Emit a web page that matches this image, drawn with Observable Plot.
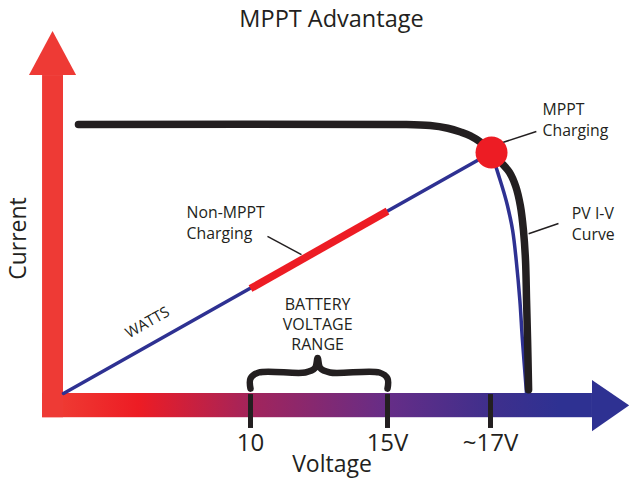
<!DOCTYPE html>
<html><head><meta charset="utf-8">
<script src="https://cdn.jsdelivr.net/npm/d3@7"></script>
<script src="https://cdn.jsdelivr.net/npm/@observablehq/plot@0.6"></script>
<style>
body{margin:0;background:#fff;}
#chart svg{display:block;}
</style></head><body><div id="chart"></div>
<script>
// ---- data (volts / amps) ----
const tickVolts = [10, 15, 17];
const tickLabels = ["10", "15V", "~17V"];
// PV I-V curve (black)
const pvVoltage = [0.8, 15.25, 15.83, 16.17, 16.42, 16.61, 16.81, 17.02, 17.21, 17.37, 17.49, 17.58, 17.64, 17.68, 17.70, 17.72, 17.74];
const pvCurrent = [5.0, 5.0, 4.98, 4.93, 4.86, 4.79, 4.67, 4.48, 4.29, 4.11, 3.85, 3.49, 3.03, 2.47, 1.73, 0.99, 0.07];
// straight "WATTS" line from origin to the maximum power point
const wattsVoltage = [0, 17.02];
const wattsCurrent = [0, 4.48];
// blue curve after the MPP
const blueVoltage = [17.02, 17.14, 17.25, 17.33, 17.43, 17.50, 17.57, 17.62, 17.70];
const blueCurrent = [4.48, 4.11, 3.77, 3.49, 3.03, 2.47, 1.73, 0.99, 0.00];
// maximum power point
const mppVoltage = [17.02];
const mppCurrent = [4.48];
// battery voltage range (red segment on the watts line)
const batteryVoltage = [10, 15];
const batteryCurrent = [1.95, 3.39];
// brace above the battery range
const braceVoltage = [10, 10, 10.3, 12.0, 12.35, 12.45, 12.55, 12.9, 14.7, 15, 15];
const braceCurrent = [0.09, 0.28, 0.39, 0.39, 0.47, 0.66, 0.47, 0.39, 0.39, 0.28, 0.09];
// axis arrows (volts / amps)
const xArrowV = [-1.12, 18.98, 19.7];   // shaft start, head base, tip
const xArrowI = [-0.45, 0, -0.71, 0.24, -0.23]; // shaft bottom, shaft top, head bottom, head top, tip
const yArrowI = [-0.45, 5.91, 6.73];    // shaft start, head base, tip
const yArrowV = [-1.12, 0, -1.82, 0.70, -0.56];
// annotations
const labels = [
  {text: "MPPT\nCharging", v: 18.01, i: 5.45},
  {text: "PV I-V\nCurve", v: 18.58, i: 3.51},
  {text: "Non-MPPT\nCharging", v: 6.58, i: 3.53}
];
const leaders = [
  {v1: 17.25, i1: 4.67, v2: 17.89, i2: 4.87},
  {v1: 17.74, i1: 2.97, v2: 18.32, i2: 3.16},
  {v1: 10.62, i1: 2.92, v2: 11.86, i2: 2.58}
];
const rangeLabel = {text: "BATTERY\nVOLTAGE\nRANGE", v: 12.45, i: 1.82};
const wattsLabel = {text: "WATTS", v: 4.49, i: 1.32};

const ink = "#231f20", blue = "#2e3192", red = "#ed1c24";
const font = "'Open Sans', 'Noto Sans', sans-serif";

const zip = (xs, ys) => xs.map((x, k) => ({x, y: ys[k]}));

const plot = Plot.plot({
  width: 629, height: 478, margin: 0,
  style: {fontFamily: font, background: "#fff", color: ink},
  x: {type: "linear", domain: [0, 10, 15, 17], range: [63, 250, 387, 490], axis: null},
  y: {domain: [0, 5], range: [393, 124], axis: null},
  marks: [
    // x axis arrow
    Plot.rect([0], {x1: xArrowV[0], x2: xArrowV[1], y1: xArrowI[0], y2: xArrowI[1], fill: "url(#xgrad)"}),
    Plot.areaY([{x: xArrowV[1], y1: xArrowI[2], y2: xArrowI[3]}, {x: xArrowV[2], y1: xArrowI[4], y2: xArrowI[4]}],
      {x: "x", y1: "y1", y2: "y2", fill: "url(#xgrad)"}),
    // y axis arrow
    Plot.rect([0], {x1: yArrowV[0], x2: yArrowV[1], y1: yArrowI[0], y2: yArrowI[1], fill: "#ee3a35"}),
    Plot.areaX([{y: yArrowI[1], x1: yArrowV[2], x2: yArrowV[3]}, {y: yArrowI[2], x1: yArrowV[4], x2: yArrowV[4]}],
      {y: "y", x1: "x1", x2: "x2", fill: "#ee3a35"}),
    // ticks
    Plot.ruleX(tickVolts, {x: d => d, y1: -0.65, y2: -0.02, stroke: ink, strokeWidth: 5}),
    // brace
    Plot.line(zip(braceVoltage, braceCurrent), {x: "x", y: "y", stroke: ink, strokeWidth: 6.5, curve: "catmull-rom", strokeLinejoin: "round"}),
    // watts line
    Plot.line(zip(wattsVoltage, wattsCurrent), {x: "x", y: "y", stroke: blue, strokeWidth: 3.5}),
    Plot.line(zip(batteryVoltage, batteryCurrent), {x: "x", y: "y", stroke: red, strokeWidth: 7.5, strokeLinecap: "butt"}),
    Plot.line(zip(blueVoltage, blueCurrent), {x: "x", y: "y", stroke: blue, strokeWidth: 3.5, curve: "catmull-rom"}),
    // PV curve
    Plot.line(zip(pvVoltage, pvCurrent), {x: "x", y: "y", stroke: ink, strokeWidth: 7.5, curve: "catmull-rom", strokeLinecap: "round"}),
    // MPP dot
    Plot.dot(zip(mppVoltage, mppCurrent), {x: "x", y: "y", r: 16, fill: red, stroke: null}),
    // leader lines
    Plot.link(leaders, {x1: "v1", y1: "i1", x2: "v2", y2: "i2", stroke: ink, strokeWidth: 1.5}),
    // labels
    Plot.text(labels, {x: "v", y: "i", text: "text", textAnchor: "start", lineAnchor: "top", fontSize: 15.8, lineHeight: 1.32, fill: ink}),
    Plot.text([rangeLabel], {x: "v", y: "i", text: "text", textAnchor: "middle", lineAnchor: "top", fontSize: 16, lineHeight: 1.25, fill: ink}),
    Plot.text([wattsLabel], {x: "v", y: "i", text: "text", textAnchor: "middle", lineAnchor: "middle", fontSize: 15, rotate: -29.4, fill: ink}),
    // tick labels
    Plot.text(tickVolts, {x: d => d, text: (d, k) => tickLabels[k], frameAnchor: "bottom", textAnchor: "middle", lineAnchor: "bottom", dy: -28, fontSize: 24, fill: ink}),
    // axis titles and title
    Plot.text(["Voltage"], {frameAnchor: "bottom", textAnchor: "middle", lineAnchor: "bottom", dx: 17, dy: -7, fontSize: 23, fill: ink}),
    Plot.text(["Current"], {frameAnchor: "left", textAnchor: "middle", lineAnchor: "bottom", rotate: -90, dx: 25, dy: -1, fontSize: 23, fill: ink}),
    Plot.text(["MPPT Advantage"], {frameAnchor: "top", textAnchor: "middle", lineAnchor: "top", dx: 16.5, dy: 10, fontSize: 23.5, fill: ink})
  ]
});

const svg = d3.select(plot);
svg.insert("defs", ":first-child").html(`
  <linearGradient id="xgrad" gradientUnits="userSpaceOnUse" x1="42" y1="0" x2="629" y2="0">
    <stop offset="0" stop-color="#ef4136"/>
    <stop offset="0.164" stop-color="#ed1c24"/>
    <stop offset="0.354" stop-color="#a3245b"/>
    <stop offset="0.588" stop-color="#662d87"/>
    <stop offset="0.763" stop-color="#3f2f8c"/>
    <stop offset="0.88" stop-color="#2e3192"/>
    <stop offset="1" stop-color="#2e3192"/>
  </linearGradient>`);
document.getElementById("chart").appendChild(plot);
</script>
</body></html>
